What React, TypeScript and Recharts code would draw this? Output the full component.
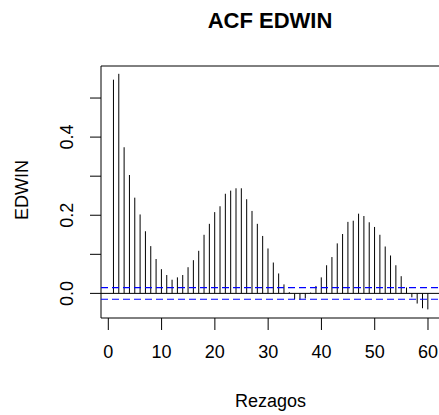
import React from "react";
import {
  ComposedChart,
  Bar,
  XAxis,
  YAxis,
  ReferenceLine,
  ReferenceArea,
} from "recharts";

// ACF values for lags 1..60
const lags = Array.from({ length: 60 }, (_, i) => i + 1);
const acfValues = [
  0.547, 0.562, 0.374, 0.303, 0.245, 0.202, 0.159, 0.121, 0.088, 0.062,
  0.047, 0.035, 0.041, 0.047, 0.067, 0.085, 0.109, 0.15, 0.178, 0.208,
  0.223, 0.255, 0.263, 0.269, 0.269, 0.241, 0.211, 0.178, 0.147, 0.115,
  0.079, 0.051, 0.023, 0.003, -0.015, -0.016, -0.013, 0.002, 0.019, 0.041,
  0.072, 0.093, 0.128, 0.152, 0.183, 0.186, 0.204, 0.198, 0.182, 0.17,
  0.15, 0.12, 0.097, 0.072, 0.044, 0.015, -0.01, -0.026, -0.038, -0.041,
];
const confLimit = 0.015;
const xTicks = [0, 10, 20, 30, 40, 50, 60];
const yTicks = [0, 0.1, 0.2, 0.3, 0.4, 0.5];
const yLabelled = [0, 0.2, 0.4];

const X_DOMAIN: [number, number] = [-1.37, 62.44];
const Y_DOMAIN: [number, number] = [-0.063, 0.582];

const font = "'Liberation Sans', Arial, sans-serif";

const data = lags.map((lag, i) => ({ lag, acf: acfValues[i] }));

const Spike = (props: any) => {
  const { x, y, width, height } = props;
  const cx = x + width / 2;
  return <line x1={cx} x2={cx} y1={y} y2={y + height} stroke="#000" strokeWidth={1} />;
};

const XTick = ({ x, y, payload }: any) => (
  <text x={x} y={y + 26} textAnchor="middle" fontSize={18} fontFamily={font} fill="#000">
    {payload.value}
  </text>
);

const YTick = ({ y, payload }: any) => {
  const v = Math.round(payload.value * 10) / 10;
  if (!yLabelled.includes(v)) return null;
  return (
    <text
      x={73}
      y={y}
      transform={`rotate(-90, 73, ${y})`}
      textAnchor="middle"
      fontSize={18}
      fontFamily={font}
      fill="#000"
    >
      {v.toFixed(1)}
    </text>
  );
};

export default function App() {
  return (
    <div
      style={{
        position: "absolute",
        left: 0,
        top: 0,
        width: 439,
        height: 415,
        overflow: "hidden",
        background: "#fff",
      }}
    >
      <ComposedChart
        width={441}
        height={415}
        data={data}
        margin={{ top: 66, right: 0, bottom: 0, left: 0 }}
      >
        <XAxis
          dataKey="lag"
          type="number"
          domain={X_DOMAIN}
          allowDataOverflow
          ticks={xTicks}
          interval={0}
          height={97}
          axisLine={false}
          tickSize={12}
          tickLine={{ stroke: "#000" }}
          tick={<XTick />}
          label={(p: any) => {
            const vb = p.viewBox;
            return (
              <text
                x={vb.x + vb.width / 2 - 0.5}
                y={vb.y + 89}
                textAnchor="middle"
                fontSize={18}
                fontFamily={font}
                fill="#000"
              >
                Rezagos
              </text>
            );
          }}
        />
        <YAxis
          type="number"
          domain={Y_DOMAIN}
          allowDataOverflow
          ticks={yTicks}
          interval={0}
          width={101}
          axisLine={false}
          tickSize={11}
          tickLine={{ stroke: "#000" }}
          tick={<YTick />}
          label={() => (
            <text
              x={28}
              y={190}
              transform="rotate(-90, 28, 190)"
              textAnchor="middle"
              fontSize={18}
              fontFamily={font}
              fill="#000"
            >
              EDWIN
            </text>
          )}
        />
        <ReferenceArea
          x1={X_DOMAIN[0]}
          x2={X_DOMAIN[1]}
          y1={Y_DOMAIN[0]}
          y2={Y_DOMAIN[1]}
          fill="none"
          stroke="#000"
          strokeWidth={1}
          ifOverflow="visible"
        />
        <Bar dataKey="acf" barSize={1} shape={<Spike />} isAnimationActive={false} />
        <ReferenceLine y={0} stroke="#000" strokeWidth={1} zIndex={700} />
        <ReferenceLine y={confLimit} stroke="#0000ff" strokeDasharray="7 4" strokeWidth={1.2} zIndex={700} />
        <ReferenceLine y={-confLimit} stroke="#0000ff" strokeDasharray="7 4" strokeWidth={1.2} zIndex={700} />
      </ComposedChart>
      <svg
        width={439}
        height={60}
        style={{ position: "absolute", left: 0, top: 0, pointerEvents: "none" }}
      >
        <text
          x={270}
          y={28}
          textAnchor="middle"
          fontSize={22}
          fontWeight="bold"
          fontFamily={font}
          fill="#000"
        >
          ACF EDWIN
        </text>
      </svg>
    </div>
  );
}
